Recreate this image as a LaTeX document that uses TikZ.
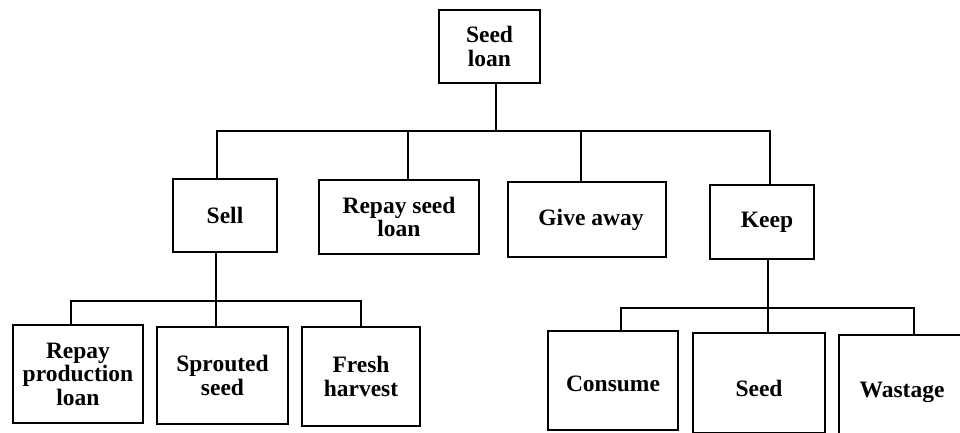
\documentclass[tikz,border=0pt]{standalone}
\usepackage{fontspec}
\setmainfont{Liberation Serif}
\begin{document}
\begin{tikzpicture}[x=1pt,y=-1pt,
  box/.style={draw=black,line width=1.6pt,fill=white,inner sep=0pt,
    align=center,font=\fontsize{23.5}{23.5}\selectfont\bfseries},
  link/.style={draw=black,line width=1.6pt}]
\useasboundingbox[fill=white] (0,0) rectangle (960,432);

% top level
\node[box,minimum width=101pt,minimum height=73pt] (seedloan) at (489.5,46.5) {Seed\\loan};

% second level
\node[box,minimum width=104pt,minimum height=73pt] (sell) at (225,215.5) {Sell};
\node[box,minimum width=160pt,minimum height=74pt] (repayseed) at (399,217) {Repay seed\\loan};
\node[box,minimum width=158pt,minimum height=75pt] (give) at (587,219.5) {\hspace*{8pt}Give away};
\node[box,minimum width=104pt,minimum height=74pt] (keep) at (762,222) {\hspace*{10pt}Keep};

% third level under Sell
\node[box,minimum width=130pt,minimum height=98pt] (repayprod) at (78,374) {Repay\\production\\loan};
\node[box,minimum width=131pt,minimum height=97pt] (sprouted) at (222.5,375.5) {Sprouted\\seed};
\node[box,minimum width=118pt,minimum height=99pt] (fresh) at (361,376.5) {Fresh\\harvest};

% third level under Keep
\node[box,minimum width=130pt,minimum height=99pt,text height=22pt] (consume) at (613,380.5) {Consume};
\node[box,minimum width=132pt,minimum height=100pt,text height=28pt] (seed) at (759,383) {Seed};
\node[box,minimum width=126pt,minimum height=104pt,text height=26pt] (wastage) at (902,387) {Wastage};

% bus junctions
\coordinate (busA) at (496,131);
\coordinate (busB) at (216,301);
\coordinate (busC) at (768,308);

% Seed loan to second level
\draw[link] (seedloan.south -| busA) -- (busA);
\draw[link] ([xshift=-8pt]sell.north) |- ([xshift=8pt]keep.north |- busA) -- ([xshift=8pt]keep.north);
\draw[link] ([xshift=9pt]repayseed.north) -- ([xshift=9pt]repayseed.north |- busA);
\draw[link] ([xshift=-6pt]give.north) -- ([xshift=-6pt]give.north |- busA);

% Sell to its outcomes
\draw[link] (sell.south -| busB) -- (busB);
\draw[link] ([xshift=-7pt]repayprod.north) |- (busB -| fresh.north) -- (fresh.north);
\draw[link] (sprouted.north -| busB) -- (busB);

% Keep to its outcomes
\draw[link] (keep.south -| busC) -- (busC);
\draw[link] ([xshift=8pt]consume.north) |- (busC -| 914,0) -- (wastage.north -| 914,0);
\draw[link] (seed.north -| busC) -- (busC);
\end{tikzpicture}
\end{document}
